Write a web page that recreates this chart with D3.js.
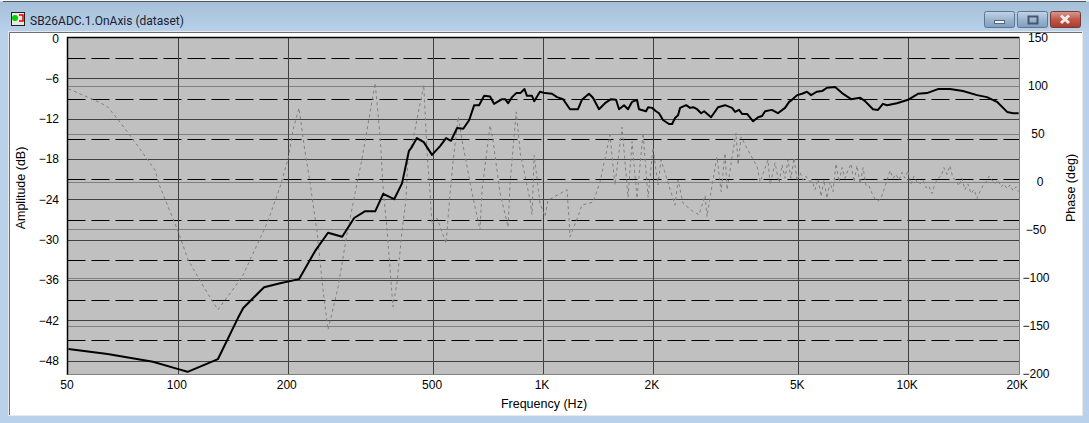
<!DOCTYPE html>
<html><head><meta charset="utf-8">
<script src="https://cdn.jsdelivr.net/npm/d3@7"></script>
<style>html,body{margin:0;padding:0;background:#b9d1ea;overflow:hidden}svg{display:block}text{font-family:"Liberation Sans",Arial,sans-serif;fill:#000}</style>
</head><body><svg id="c" width="1089" height="423"></svg>
<script>
const windowTitle = "SB26ADC.1.OnAxis (dataset)";
const ampTicks = [0,-6,-12,-18,-24,-30,-36,-42,-48];
const ampMinor = [-3,-9,-15,-21,-27,-33,-39,-45];
const phaseTicks = [150,100,50,0,-50,-100,-150,-200];
const freqTicks = [50,100,200,500,1000,2000,5000,10000,20000];
const freqLabels = ["50","100","200","500","1K","2K","5K","10K","20K"];
const ampFreq = [50,64,85.2,100,106,128.4,145.6,150.6,171.7,190,214,237,257,281,303,324,346,364,390,410,428,434,450,470,495,521,541,558,580,603,626,646,666,688,714,732,770,785,800,820,842,864,887,901,930,943,978,1010,1055,1089,1131,1182,1243,1274,1332,1366,1419,1474,1530,1580,1610,1662,1704,1748,1803,1826,1909,1934,1983,2033,2072,2124,2206,2250,2292,2336,2366,2458,2520,2570,2634,2702,2754,2876,3006,3142,3284,3347,3432,3498,3610,3750,3870,3968,4044,4220,4384,4586,4706,4792,4950,5105,5265,5405,5600,5790,5975,6290,6570,6955,7370,7595,7985,8240,8500,8725,9285,9955,10600,11220,12030,12970,14080,15390,16380,17450,18600,19330,20000];
const ampDb = [-46.2,-46.95,-48.1,-49.2,-49.6,-47.7,-41.6,-40.1,-37,-36.4,-35.8,-31.6,-28.9,-29.5,-26.7,-25.7,-25.7,-23.1,-23.9,-21.5,-16.7,-16.3,-14.8,-15.4,-17.3,-16,-14.8,-15.2,-13.3,-13.4,-12.1,-9.9,-9.9,-8.5,-8.6,-9.7,-9,-9,-9.6,-8.7,-8.1,-8.1,-7.5,-8.5,-8.5,-9.3,-7.9,-8.1,-8.2,-8.7,-9,-10.5,-10.5,-9.1,-8.2,-8.8,-10.5,-9.6,-9,-9.1,-10.5,-9.9,-10.5,-9.4,-9.1,-10.5,-10.8,-10.2,-10.3,-10.8,-11.1,-12.1,-12.7,-12.7,-11.8,-11.4,-10.3,-9.9,-10.3,-10.2,-10.5,-11.1,-10.8,-11.7,-10.2,-9.9,-10.3,-10.9,-10.6,-11.2,-11.2,-12.3,-11.7,-11.5,-10.8,-10.6,-11.1,-10.3,-9.4,-9.1,-8.4,-8.2,-7.9,-8.4,-7.9,-7.8,-7.3,-7.2,-8.1,-9,-8.8,-9.3,-10.5,-10.6,-9.7,-9.9,-9.6,-9.1,-8.2,-8.1,-7.5,-7.5,-7.8,-8.4,-8.7,-9.4,-10.9,-11.1,-11.1];
const phaseFreq = [50,58.4,63.8,69.2,77.1,86.3,89.1,100,106.3,119.8,128.4,149.5,175,190,200,206,214,222,229.5,240,249,257,274,290,305,318,346,357,364,373,387,397,410,420,425.5,439,470,480,489,495,511,541,555,565,584,598,637,670,679,714,727,760,800,810,842,864,919,930,943,978,1010,1029,1160,1174,1182,1243,1274,1366,1428,1521,1569,1641,1704,1748,1803,1873,1934,1995,2058,2098,2292,2336,2410,2570,2666,2770,2804,2896,2986,3064,3142,3182,3284,3366,3410,3475,3610,3845,3918,4118,4174,4306,4417,4500,4586,4672,4760,4852,4946,5041,5137,5235,5335,5438,5540,5646,5755,5865,5975,6090,6205,6325,6445,6570,6695,6820,6955,7085,7220,7360,7500,7645,7790,7940,8090,8245,8400,8560,8725,8888,9060,9230,9405,9585,9770,9955,10140,10340,10535,10735,10940,11150,11360,11580,11800,12030,12260,12490,12730,12970,13220,13470,13730,13990,14260,14530,14810,15090,15390,15680,15970,16280,16590,16900,17230,17560,17890,18240,18590,18950,19310,19680,20000];
const phaseDeg = [97,86,79,62.5,38.5,12.5,-5,-52,-81,-115,-133,-99,-43,-5,25,54,77,33,-1,-53,-112,-154,-109,-53,-11,23,103,47,-8,-50,-130,-105,-50,-19,26,44,101,30,-11,-44,-37.5,-64,-11,20,68,44,-11,-50,-8,59,44,-11,-47,-1,73,30,-19,-34,28,-22,-36,-19,-8,-37.5,-57,-36,-24,-21,0,49,-3,57,-16,42,-17,51,-16,36,-3,23,-24,2,-22,-31,-34,-14,-36,-3,26,-10,30,-8,26,51,18,47,35,16,0,23,-3,20,-1,18,4,23,4,25,2,10,2,6,1,1,-8,3,-15,2,-17,0,-10,19,0,15,4,12,19,0,17,-2,15,-4,-4,-12,-18,-20,-17,-8,2,12,4,8,2,10,4,12,-2,6,0,-2,2,-6,-4,-12,-2,4,6,15,8,17,4,2,-4,4,-8,-2,-12,-8,-17,-10,-4,0,6,2,-2,2,-5,-2,-7,-3,-9,-5,-10];

const svg = d3.select("#c");
const defs = svg.append("defs");
const g1 = defs.append("linearGradient").attr("id","tb").attr("x1",0).attr("x2",0).attr("y1",0).attr("y2",1);
g1.append("stop").attr("offset",0).attr("stop-color","#a6c0d9");
g1.append("stop").attr("offset",1).attr("stop-color","#b9d1ea");
const g2 = defs.append("linearGradient").attr("id","btn").attr("x1",0).attr("x2",0).attr("y1",0).attr("y2",1);
g2.append("stop").attr("offset",0).attr("stop-color","#c3d4e6");
g2.append("stop").attr("offset",.5).attr("stop-color","#9db6d0");
g2.append("stop").attr("offset",1).attr("stop-color","#7f9dbd");
const g3 = defs.append("linearGradient").attr("id","cls").attr("x1",0).attr("x2",0).attr("y1",0).attr("y2",1);
g3.append("stop").attr("offset",0).attr("stop-color","#d89b90");
g3.append("stop").attr("offset",.5).attr("stop-color","#c0584a");
g3.append("stop").attr("offset",1).attr("stop-color","#a83a2c");

// window chrome
svg.append("rect").attr("x",0).attr("y",0).attr("width",1089).attr("height",423).attr("fill","#b9d1ea");
svg.append("rect").attr("x",0).attr("y",2).attr("width",1089).attr("height",30).attr("fill","url(#tb)");
svg.append("line").attr("x1",3).attr("x2",1086).attr("y1",1.5).attr("y2",1.5).attr("stroke","#4a5560");
svg.append("rect").attr("x",0).attr("y",0).attr("width",1089).attr("height",1).attr("fill","#f4f4f4");
svg.append("rect").attr("x",8.5).attr("y",31.5).attr("width",1074).attr("height",384).attr("fill","#fff").attr("stroke","#e8e8e8");
svg.append("path").attr("d","M9.5 415V32.5H1082").attr("fill","none").attr("stroke","#6d6d6d");

// title icon and text
const ic = svg.append("g");
ic.append("rect").attr("x",11.5).attr("y",12.5).attr("width",13).attr("height",13).attr("fill","#e8e8e0").attr("stroke","#222");
ic.append("circle").attr("cx",15).attr("cy",18).attr("r",3).attr("fill","#00d000");
ic.append("path").attr("d","M19 15h4v6h-4").attr("fill","none").attr("stroke","#e00000").attr("stroke-width",1.5);
svg.append("text").attr("x",30).attr("y",25).attr("style","font-family:Roboto;font-size:12px;fill:#1a2230").text(windowTitle);

// buttons
[[984.5,30],[1017.5,30]].forEach(([x,w])=>svg.append("rect").attr("x",x).attr("y",11.5).attr("width",w).attr("height",16).attr("rx",2).attr("fill","url(#btn)").attr("stroke","#5f7690"));
svg.append("rect").attr("x",1050.5).attr("y",11.5).attr("width",30).attr("height",16).attr("rx",2).attr("fill","url(#cls)").attr("stroke","#7a3a34");
svg.append("rect").attr("x",994.5).attr("y",20.5).attr("width",10).attr("height",3).attr("fill","#eef3f8").attr("stroke","#56677a");
svg.append("rect").attr("x",1028.5).attr("y",16.5).attr("width",9).attr("height",7).attr("fill","none").attr("stroke","#46586c").attr("stroke-width",2);
svg.append("path").attr("d","M1061 15.5l8 7.5M1069 15.5l-8 7.5").attr("stroke","#f2ece8").attr("stroke-width",3);

// plot
const L=67.5,R=1019.5,T=37.5,B=374.5;
const x=d3.scaleLog().domain([50,20000]).range([68.4,1018.6]);
const yA=d3.scaleLinear().domain([0,-50]).range([38.7,374.5]);
const yP=d3.scaleLinear().domain([150,-200]).range([38,374]);
svg.append("rect").attr("x",L).attr("y",T).attr("width",R-L).attr("height",B-T).attr("fill","#c0c0c0");

function gridY(scale,vals,col,dash){
  const a=d3.axisLeft(scale).tickValues(vals).tickSize(-(R-L)).tickFormat("");
  const g=svg.append("g").attr("transform",`translate(${L},0)`).call(a);
  g.select(".domain").remove();
  g.selectAll("line").attr("stroke",col).attr("stroke-dasharray",dash||null)
    .attr("transform",d=>`translate(0,${Math.floor(scale(d))-scale(d)})`);
  return g;
}
gridY(yP,phaseTicks.slice(1,-1),"#808080");
gridY(yA,ampTicks.slice(1),"#404040");
gridY(yA,ampMinor,"#000","18 6");

const gx=svg.append("g").attr("transform",`translate(0,${B})`).call(d3.axisBottom(x).tickValues(freqTicks.slice(1,-1)).tickSize(-(B-T)).tickFormat(""));
gx.select(".domain").remove();
gx.selectAll("line").attr("stroke","#404040").attr("transform",d=>`translate(${Math.floor(x(d))-x(d)},0)`);

// frame
svg.append("path").attr("d",`M${L} ${B+.5}V${T}H${R}`).attr("fill","none").attr("stroke","#000").attr("stroke-width",1.5);
svg.append("path").attr("d",`M${L} ${B}H${R}V${T}`).attr("fill","none").attr("stroke","#808080");

// series
const plot=svg.append("g");
plot.append("path").datum(d3.range(phaseFreq.length))
  .attr("d",d3.line().x(i=>x(phaseFreq[i])).y(i=>yP(phaseDeg[i])))
  .attr("fill","none").attr("stroke","#808080").attr("stroke-width",1).attr("stroke-dasharray","3 3");
plot.append("path").datum(d3.range(ampFreq.length))
  .attr("d",d3.line().x(i=>x(ampFreq[i])).y(i=>yA(ampDb[i])))
  .attr("fill","none").attr("stroke","#000").attr("stroke-width",2).attr("stroke-linejoin","round");

// tick labels through axes
function labels(axis,tf,fix){
  const g=svg.append("g").attr("transform",tf).call(axis);
  g.select(".domain").remove(); g.selectAll("line").remove();
  g.selectAll("text").attr("style","font-family:'Liberation Sans';font-size:12px;fill:#000");
  if(fix) fix(g); return g;
}
labels(d3.axisLeft(yA).tickValues(ampTicks).tickSize(0).tickPadding(0).tickFormat(d3.format("d")),"translate(59,-0.5)");
labels(d3.axisRight(yP).tickValues(phaseTicks).tickSize(0).tickPadding(0).tickFormat(d3.format("d")),"translate(1038,0)",
  g=>g.selectAll("text").attr("text-anchor","middle").attr("dx",d=>d<0?-2:(d===0?2:0)));
labels(d3.axisBottom(x).tickValues(freqTicks).tickSize(0).tickPadding(0).tickFormat((d,i)=>freqLabels[i]),"translate(-2,380)");

const ts="font-family:'Liberation Sans';font-size:12.5px;fill:#000";
svg.append("text").attr("x",544).attr("y",408).attr("text-anchor","middle").attr("style",ts).text("Frequency (Hz)");
svg.append("text").attr("transform","translate(25,188) rotate(-90)").attr("text-anchor","middle").attr("style",ts).text("Amplitude (dB)");
svg.append("text").attr("transform","translate(1075,188) rotate(-90)").attr("text-anchor","middle").attr("style",ts).text("Phase (deg)");
</script></body></html>
